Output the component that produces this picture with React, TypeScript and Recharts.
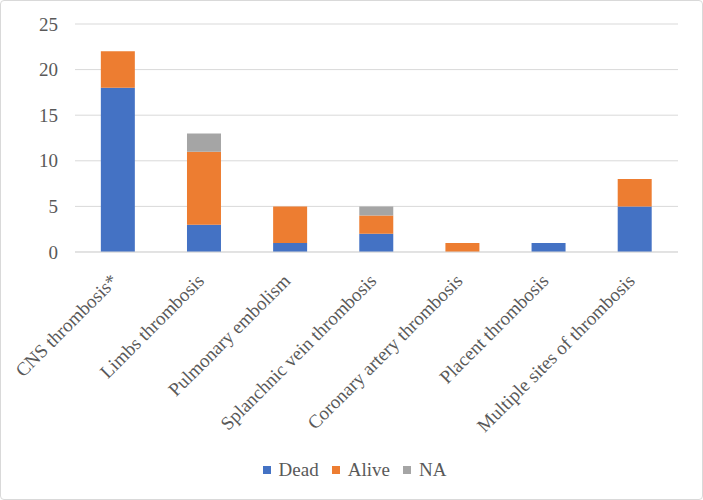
import React from "react";
import { BarChart, Bar, XAxis, YAxis, CartesianGrid, Legend } from "recharts";

const categories = [
  "CNS thrombosis*",
  "Limbs thrombosis",
  "Pulmonary embolism",
  "Splanchnic vein thrombosis",
  "Coronary artery thrombosis",
  "Placent thrombosis",
  "Multiple sites of thrombosis",
];
const dead = [18, 3, 1, 2, 0, 1, 5];
const alive = [4, 8, 4, 2, 1, 0, 3];
const na = [0, 2, 0, 1, 0, 0, 0];
const yTicks = [0, 5, 10, 15, 20, 25];

const series = [
  { key: "Dead", color: "#4472C4" },
  { key: "Alive", color: "#ED7D31" },
  { key: "NA", color: "#A5A5A5" },
];

const data = categories.map((name, i) => ({
  name,
  Dead: dead[i],
  Alive: alive[i],
  NA: na[i],
}));

const font = "'Liberation Serif', serif";

function AngledTick(props: any) {
  const { x, y, payload } = props;
  return (
    <text
      transform={`translate(${x + 1},${y + 22}) rotate(-45)`}
      textAnchor="end"
      fill="#595959"
      fontSize={19}
      fontFamily={font}
    >
      {payload.value}
    </text>
  );
}

function YTick(props: any) {
  const { x, y, payload } = props;
  return (
    <text
      x={x + 1}
      y={y}
      dy="0.35em"
      textAnchor="end"
      fill="#595959"
      fontSize={19}
      fontFamily={font}
    >
      {payload.value}
    </text>
  );
}

function LegendBox() {
  return (
    <div
      style={{
        display: "flex",
        justifyContent: "center",
        alignItems: "center",
        gap: 13,
        paddingLeft: 30,
        fontFamily: font,
        fontSize: 19,
        color: "#595959",
        height: 30,
      }}
    >
      {series.map((s) => (
        <span key={s.key} style={{ display: "flex", alignItems: "center" }}>
          <span
            style={{
              width: 8,
              height: 8,
              background: s.color,
              display: "inline-block",
              marginRight: 8,
            }}
          />
          {s.key}
        </span>
      ))}
    </div>
  );
}

export default function App() {
  return (
    <div style={{ fontFamily: font }}>
      <style>{"body{margin:0}"}</style>
      <div
        style={{
          width: 701,
          height: 498,
          border: "1px solid #d9d9d9",
          borderRadius: 4,
          background: "#fff",
        }}
      >
        <BarChart
          width={701}
          height={498}
          data={data}
          margin={{ top: 23, right: 24, left: 0, bottom: 14 }}
          barCategoryGap="30%"
        >
          <CartesianGrid vertical={false} stroke="#d9d9d9" />
          <XAxis
            dataKey="name"
            interval={0}
            height={203}
            tick={<AngledTick />}
            tickLine={false}
            axisLine={{ stroke: "#d9d9d9" }}
          />
          <YAxis
            width={74}
            domain={[0, 25]}
            ticks={yTicks}
            tickLine={false}
            axisLine={false}
            tickMargin={12}
            tick={<YTick />}
          />
          <Legend verticalAlign="bottom" content={<LegendBox />} />
          {series.map((s) => (
            <Bar
              key={s.key}
              dataKey={s.key}
              stackId="a"
              fill={s.color}
              isAnimationActive={false}
            />
          ))}
        </BarChart>
      </div>
    </div>
  );
}
